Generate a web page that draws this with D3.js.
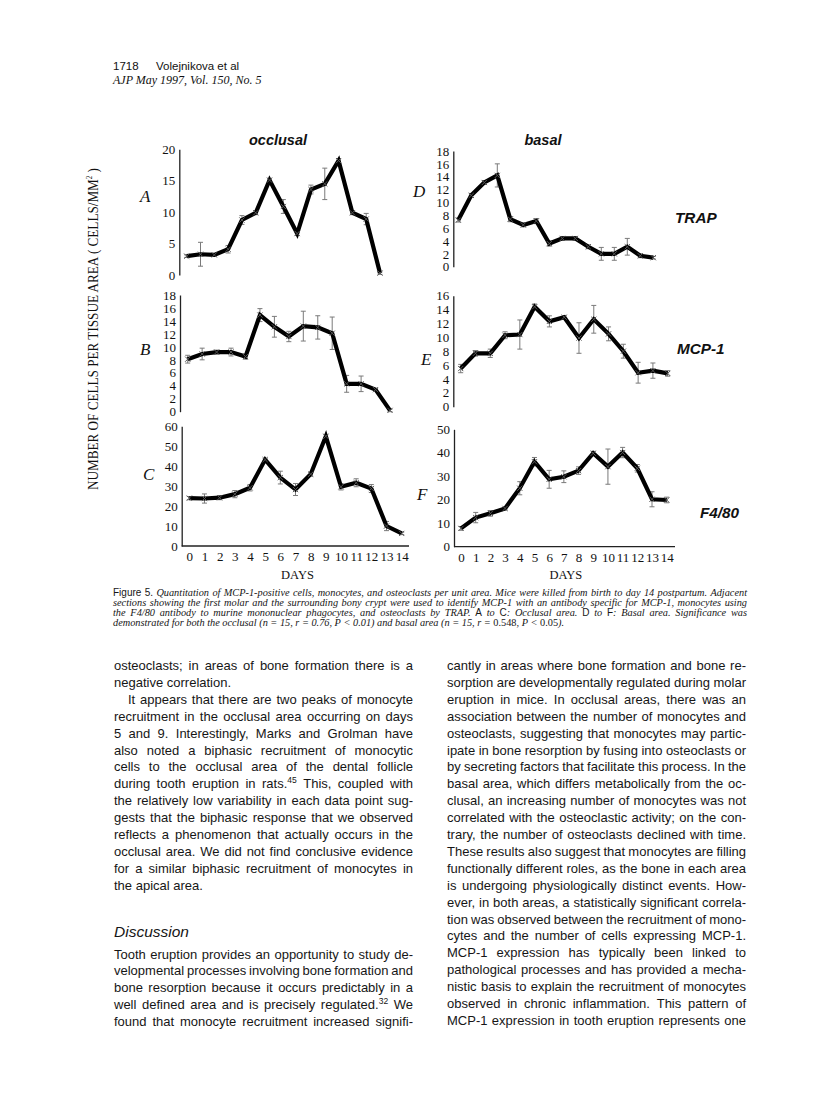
<!DOCTYPE html>
<html><head><meta charset="utf-8">
<script src="https://cdn.jsdelivr.net/npm/d3@7"></script>
<style>
html,body{margin:0;padding:0;background:#fff;}
svg{display:block;}
</style></head><body>
<svg id="page" width="816" height="1106"></svg>
<script>
// ---------------- DATA ----------------
const days = [0,1,2,3,4,5,6,7,8,9,10,11,12,13,14];
const samplesD = [0,1,2,3,4,5,6,7,8,9,10,11,12,13,14,15]; // markers as drawn in panel D

// A: occlusal, TRAP
const trapOcclusal    = [3.0, 3.3, 3.2, 4.1, 8.75, 9.9, 15.1, 10.9, 6.6, 13.6, 14.5, 18.2, 9.9, 8.9, 0.3];
const trapOcclusalErr = [0.2, 1.9, 0.2, 0.6, 0.7, 0.3, 0.2, 1.1, 0.3, 0.7, 2.5, 0.3, 0.3, 0.9, 0.2];
// B: occlusal, MCP-1
const mcpOcclusal     = [8.1, 8.9, 9.2, 9.2, 8.5, 14.9, 13.1, 11.6, 13.2, 13.0, 12.1, 4.3, 4.3, 3.4, 0.2];
const mcpOcclusalErr  = [0.6, 0.9, 0.3, 0.6, 0.4, 1.0, 1.6, 0.8, 2.3, 1.8, 2.5, 1.3, 1.2, 0.2, 0.2];
// C: occlusal, F4/80
const f480Occlusal    = [24.0, 23.8, 24.2, 26.0, 29.2, 43.3, 34.3, 28.3, 36.0, 55.0, 29.7, 31.7, 28.8, 10.0, 6.3];
const f480OcclusalErr = [0.8, 2.3, 1.0, 1.8, 1.6, 0.6, 3.2, 3.0, 1.0, 0.8, 1.6, 2.0, 2.0, 2.3, 0.6];
// D: basal, TRAP
const trapBasal       = [7.25, 11.1, 13.1, 14.2, 7.4, 6.5, 7.1, 3.6, 4.4, 4.4, 3.1, 2.0, 2.0, 3.1, 1.7, 1.4];
const trapBasalErr    = [0.3, 0.3, 0.3, 1.8, 0.4, 0.3, 0.4, 0.4, 0.3, 0.3, 0.3, 1.0, 1.0, 1.3, 0.3, 0.2];
// E: basal, MCP-1
const mcpBasal        = [5.5, 7.7, 7.7, 10.3, 10.4, 14.4, 12.3, 12.9, 9.9, 12.6, 10.5, 8.0, 4.9, 5.2, 4.8];
const mcpBasalErr     = [0.6, 0.4, 0.6, 0.5, 2.1, 0.4, 0.8, 0.2, 2.2, 2.0, 1.0, 1.0, 1.5, 1.1, 0.4];
// F: basal, F4/80
const f480Basal       = [7.8, 12.4, 14.2, 16.3, 24.9, 36.2, 28.7, 29.8, 32.4, 39.8, 34.1, 40.1, 33.4, 20.2, 19.9];
const f480BasalErr    = [0.8, 2.2, 1.2, 0.6, 2.8, 1.8, 3.8, 2.5, 1.6, 0.8, 7.5, 2.2, 1.6, 3.2, 1.2];

// tick labels
const ticksA = [0,5,10,15,20];
const ticksB = [0,2,4,6,8,10,12,14,16,18];
const ticksC = [0,10,20,30,40,50,60];
const ticksD = [0,2,4,6,8,10,12,14,16,18];
const ticksE = [0,2,4,6,8,10,12,14,16];
const ticksF = [0,10,20,30,40,50];

const columnTitles = ["occlusal", "basal"];
const rowLabels = ["TRAP", "MCP-1", "F4/80"];
const yTitle = "NUMBER OF CELLS PER TISSUE AREA ( CELLS/MM";
const xTitle = "DAYS";

// ---------------- LAYOUT ----------------
const panels = [
  {letter:'A', xs:days, vals:trapOcclusal, errs:trapOcclusalErr, ticks:ticksA, yMax:20,
   x0:186.7, x1:380, yb:275, yt:149.3, ax:179.3, lx:140, ly:202},
  {letter:'B', xs:days, vals:mcpOcclusal, errs:mcpOcclusalErr, ticks:ticksB, yMax:18,
   x0:187.7, x1:390, yb:411.7, yt:295, ax:180, lx:140, ly:355},
  {letter:'C', xs:days, vals:f480Occlusal, errs:f480OcclusalErr, ticks:ticksC, yMax:60,
   x0:189.3, x1:401.7, yb:546, yt:426.3, ax:181.7, lx:143, ly:480, xaxisEnd:409},
  {letter:'D', xs:samplesD, vals:trapBasal, errs:trapBasalErr, ticks:ticksD, yMax:18,
   x0:458.3, x1:653.3, yb:266.7, yt:151, ax:453.3, lx:413, ly:197},
  {letter:'E', xs:days, vals:mcpBasal, errs:mcpBasalErr, ticks:ticksE, yMax:16,
   x0:460.7, x1:667.7, yb:406.7, yt:295.7, ax:453.3, lx:421, ly:365},
  {letter:'F', xs:days, vals:f480Basal, errs:f480BasalErr, ticks:ticksF, yMax:50,
   x0:461, x1:666.7, yb:546.7, yt:429.3, ax:454, lx:417, ly:500, xaxisEnd:675},
];

const SERIF = '"Liberation Serif", "Times New Roman", serif';
const SANS = '"Liberation Sans", Arial, Helvetica, sans-serif';

const svg = d3.select('#page');
svg.append('rect').attr('width',816).attr('height',1106).attr('fill','#fff');

const gPanels = svg.append('g');
panels.forEach(p => {
  const n = p.xs.length;
  const x = d3.scaleLinear().domain([p.xs[0], p.xs[n-1]]).range([p.x0, p.x1]);
  const y = d3.scaleLinear().domain([0, p.yMax]).range([p.yb, p.yt]);
  const g = gPanels.append('g');

  const ya = g.append('g').attr('transform', `translate(${p.ax},0)`)
    .call(d3.axisLeft(y).tickValues(p.ticks).tickSize(0).tickSizeOuter(0).tickPadding(4).tickFormat(d3.format('d')));
  ya.select('.domain').attr('stroke', '#222').attr('stroke-width', 1.3);
  ya.selectAll('text').attr('font-family', SERIF).attr('font-size', 13).attr('fill', '#111');

  if (p.xaxisEnd) {
    const xa = g.append('g').attr('transform', `translate(0,${p.yb})`)
      .call(d3.axisBottom(x).tickValues(p.xs).tickSize(0).tickPadding(6).tickFormat(d3.format('d')));
    xa.select('.domain').remove();
    xa.selectAll('text').attr('font-family', SERIF).attr('font-size', 13).attr('fill', '#111');
    g.append('line').attr('x1', p.ax).attr('x2', p.xaxisEnd).attr('y1', p.yb).attr('y2', p.yb)
      .attr('stroke', '#222').attr('stroke-width', 1.3);
    g.append('text').attr('x', (p.x0 + p.x1) / 2 + 2).attr('y', 578.5).attr('text-anchor', 'middle')
      .attr('font-family', SERIF).attr('font-size', 12.5).attr('fill', '#111').text(xTitle);
  }

  const pts = p.vals.map((v, i) => ({xv: p.xs[i], v, e: p.errs[i]}));
  // error bars
  const eb = g.append('g').attr('stroke', '#7a7a7a').attr('stroke-width', 1).attr('fill', 'none');
  pts.forEach(d => {
    const cx = x(d.xv), ylo = y(Math.max(0, d.v - d.e)), yhi = y(d.v + d.e);
    eb.append('line').attr('x1', cx).attr('x2', cx).attr('y1', ylo).attr('y2', yhi);
    eb.append('line').attr('x1', cx - 2.5).attr('x2', cx + 2.5).attr('y1', ylo).attr('y2', ylo);
    eb.append('line').attr('x1', cx - 2.5).attr('x2', cx + 2.5).attr('y1', yhi).attr('y2', yhi);
  });
  // line
  g.append('path').datum(pts)
    .attr('d', d3.line().x(d => x(d.xv)).y(d => y(d.v)))
    .attr('fill', 'none').attr('stroke', '#000').attr('stroke-width', 4.2)
    .attr('stroke-linejoin', 'miter').attr('stroke-miterlimit', 6);
  // x markers
  const mk = g.append('g').attr('stroke', '#555').attr('stroke-width', 1);
  pts.forEach(d => {
    const cx = x(d.xv), cy = y(d.v), s = 2.6;
    mk.append('line').attr('x1', cx - s).attr('x2', cx + s).attr('y1', cy - s).attr('y2', cy + s);
    mk.append('line').attr('x1', cx - s).attr('x2', cx + s).attr('y1', cy + s).attr('y2', cy - s);
  });

  g.append('text').attr('x', p.lx).attr('y', p.ly)
    .attr('font-family', SERIF).attr('font-style', 'italic').attr('font-size', 17).attr('fill', '#111')
    .text(p.letter);
});

// column titles
[[278, columnTitles[0]], [543, columnTitles[1]]].forEach(([cx, t]) => {
  svg.append('text').attr('x', cx).attr('y', 145).attr('text-anchor', 'middle')
    .attr('font-family', SANS).attr('font-weight', 'bold').attr('font-style', 'italic')
    .attr('font-size', 14.5).attr('fill', '#111').text(t);
});
// row labels
[[675, 222.7], [677, 354], [700, 518]].forEach(([lx, ly], i) => {
  svg.append('text').attr('x', lx).attr('y', ly)
    .attr('font-family', SANS).attr('font-weight', 'bold').attr('font-style', 'italic')
    .attr('font-size', 15.3).attr('fill', '#111').text(rowLabels[i]);
});
// y title
const yt = svg.append('text').attr('transform', 'translate(98,329) rotate(-90)')
  .attr('text-anchor', 'middle').attr('font-family', SERIF).attr('font-size', 15).attr('fill', '#111')
  .attr('textLength', 322).attr('lengthAdjust', 'spacingAndGlyphs');
yt.append('tspan').text(yTitle);
yt.append('tspan').attr('font-size', 8).attr('dy', -6).text('2');
yt.append('tspan').attr('dy', 6).text(' )');

// ---------------- TEXT ----------------
const styles = {
  b: {ff: SANS, fs: 13, st: 'normal', sp: 0.278},
  u: {ff: SANS, fs: 8.5, st: 'normal', sup: true},
  i: {ff: SERIF, fs: 10.3, st: 'italic', sp: 0.25},
  s: {ff: SANS, fs: 10, st: 'normal'},
  r: {ff: SERIF, fs: 10.3, st: 'normal'},
};
const measurer = svg.append('text').attr('x', -2000).attr('y', -2000);

function parseLine(str, base) {
  const segs = []; const re = /\{(\w):([^}]*)\}/g; let last = 0, m;
  while ((m = re.exec(str))) {
    if (m.index > last) segs.push({t: str.slice(last, m.index), c: base});
    segs.push({t: m[2], c: m[1]}); last = re.lastIndex;
  }
  if (last < str.length) segs.push({t: str.slice(last), c: base});
  const words = []; let cur = [];
  segs.forEach(s => {
    s.t.split(' ').forEach((pt, i) => {
      if (i > 0) { if (cur.length) words.push(cur); cur = []; }
      if (pt.length) cur.push({t: pt, c: s.c});
    });
  });
  if (cur.length) words.push(cur);
  return words;
}
function putWord(textSel, word, x, y) {
  let supOn = false;
  word.forEach((pc, k) => {
    const st = styles[pc.c];
    const ts = textSel.append('tspan').text(pc.t)
      .attr('font-family', st.ff).attr('font-size', st.fs).attr('font-style', st.st);
    if (k === 0) ts.attr('x', x).attr('y', y);
    if (st.sup && !supOn) { ts.attr('dy', -5); supOn = true; }
    else if (!st.sup && supOn) { ts.attr('dy', 5); supOn = false; }
  });
}
function measureWord(word) {
  measurer.selectAll('*').remove();
  putWord(measurer, word, 0, 0);
  return measurer.node().getComputedTextLength();
}
function drawLine(str, base, x, y, width, justify) {
  const words = parseLine(str, base);
  const widths = words.map(measureWord);
  const total = d3.sum(widths);
  const spaceW = styles[base].fs * styles[base].sp;
  let gap = (justify && words.length > 1) ? (width - total) / (words.length - 1) : spaceW;
  let sc = 1;
  if (justify && gap < spaceW * 0.7) {
    gap = spaceW * 0.7;
    sc = (width - gap * (words.length - 1)) / total;
  }
  const t = svg.append('text').attr('fill', '#161616')
    .attr('transform', `translate(${x},0) scale(${sc},1)`);
  let cx = 0;
  words.forEach((w, i) => { putWord(t, w, cx, y); cx += widths[i] + gap / sc; });
}

// header
svg.append('text').attr('x', 113).attr('y', 70).attr('font-family', SANS).attr('font-size', 11.5).attr('fill', '#111').text('1718');
svg.append('text').attr('x', 156).attr('y', 70).attr('font-family', SANS).attr('font-size', 11.5).attr('fill', '#111').text('Volejnikova et al');
svg.append('text').attr('x', 113).attr('y', 84).attr('font-family', SERIF).attr('font-style', 'italic').attr('font-size', 12).attr('fill', '#111').text('AJP May 1997, Vol. 150, No. 5');

// caption
const captionLines = [
  ["{s:Figure 5.} Quantitation of MCP-1-positive cells, monocytes, and osteoclasts per unit area. Mice were killed from birth to day 14 postpartum. Adjacent", true],
  ["sections showing the first molar and the surrounding bony crypt were used to identify MCP-1 with an antibody specific for MCP-1, monocytes using", true],
  ["the F4/80 antibody to murine mononuclear phagocytes, and osteoclasts by TRAP. {s:A} to {s:C}: Occlusal area. {s:D} to {s:F}: Basal area. Significance was", true],
  ["demonstrated for both the occlusal (n = 15, r = 0.76, P < 0.01) and basal area (n = 15, r = {r:0.548}, P < {r:0.05}).", false],
];
captionLines.forEach(([s, j], i) => drawLine(s, 'i', 113, 596 + i * 10, 634, j));

// body columns
const LH = 16.9;
const leftTop = [
  ["osteoclasts; in areas of bone formation there is a", true, 0],
  ["negative correlation.", false, 0],
  ["It appears that there are two peaks of monocyte", true, 14],
  ["recruitment in the occlusal area occurring on days", true, 0],
  ["5 and 9. Interestingly, Marks and Grolman have", true, 0],
  ["also noted a biphasic recruitment of monocytic", true, 0],
  ["cells to the occlusal area of the dental follicle", true, 0],
  ["during tooth eruption in rats.{u:45} This, coupled with", true, 0],
  ["the relatively low variability in each data point sug-", true, 0],
  ["gests that the biphasic response that we observed", true, 0],
  ["reflects a phenomenon that actually occurs in the", true, 0],
  ["occlusal area. We did not find conclusive evidence", true, 0],
  ["for a similar biphasic recruitment of monocytes in", true, 0],
  ["the apical area.", false, 0],
];
leftTop.forEach(([s, j, ind], i) => drawLine(s, 'b', 114 + ind, 670 + i * LH, 299 - ind, j));

svg.append('text').attr('x', 114).attr('y', 937).attr('font-family', SANS).attr('font-style', 'italic')
  .attr('font-size', 15.5).attr('fill', '#161616').text('Discussion');

const leftBottom = [
  "Tooth eruption provides an opportunity to study de-",
  "velopmental processes involving bone formation and",
  "bone resorption because it occurs predictably in a",
  "well defined area and is precisely regulated.{u:32} We",
  "found that monocyte recruitment increased signifi-",
];
leftBottom.forEach((s, i) => drawLine(s, 'b', 114, 958.5 + i * LH, 299, true));

const rightCol = [
  "cantly in areas where bone formation and bone re-",
  "sorption are developmentally regulated during molar",
  "eruption in mice. In occlusal areas, there was an",
  "association between the number of monocytes and",
  "osteoclasts, suggesting that monocytes may partic-",
  "ipate in bone resorption by fusing into osteoclasts or",
  "by secreting factors that facilitate this process. In the",
  "basal area, which differs metabolically from the oc-",
  "clusal, an increasing number of monocytes was not",
  "correlated with the osteoclastic activity; on the con-",
  "trary, the number of osteoclasts declined with time.",
  "These results also suggest that monocytes are filling",
  "functionally different roles, as the bone in each area",
  "is undergoing physiologically distinct events. How-",
  "ever, in both areas, a statistically significant correla-",
  "tion was observed between the recruitment of mono-",
  "cytes and the number of cells expressing MCP-1.",
  "MCP-1 expression has typically been linked to",
  "pathological processes and has provided a mecha-",
  "nistic basis to explain the recruitment of monocytes",
  "observed in chronic inflammation. This pattern of",
  "MCP-1 expression in tooth eruption represents one",
];
rightCol.forEach((s, i) => drawLine(s, 'b', 447, 670 + i * LH, 299, true));
measurer.remove();
</script>
</body></html>
